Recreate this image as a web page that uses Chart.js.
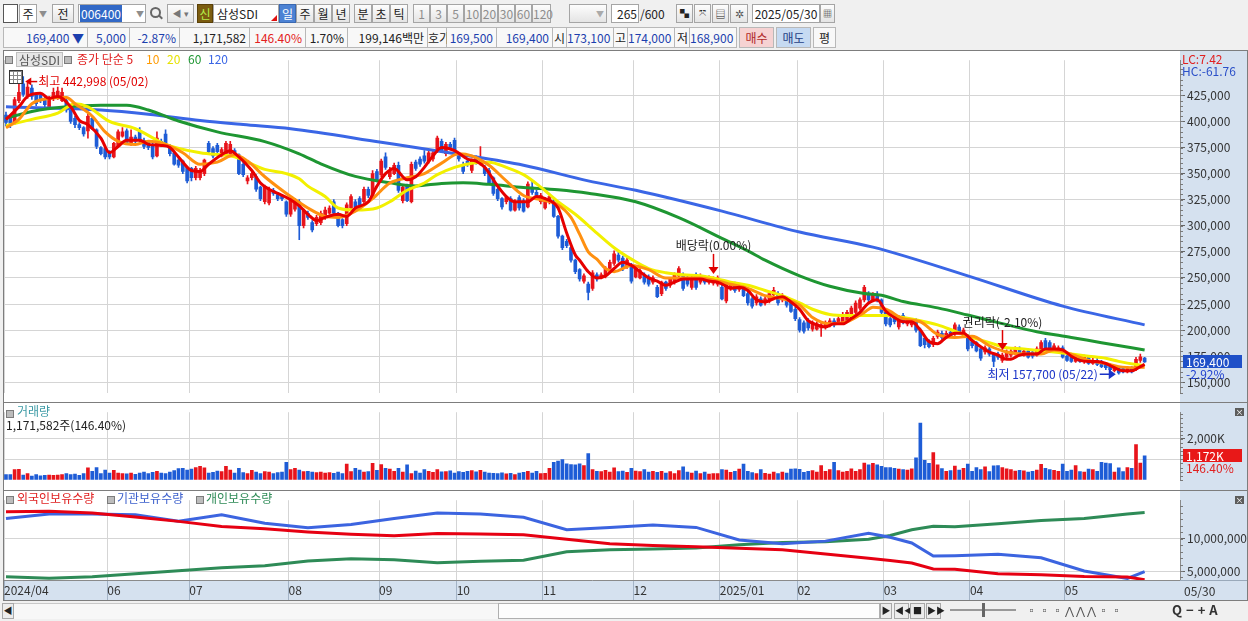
<!DOCTYPE html>
<html>
<head>
<meta charset="utf-8">
<script src="https://cdn.jsdelivr.net/npm/chart.js@4.4.0/dist/chart.umd.js"></script>
<style>
  body { margin:0; width:1248px; height:621px; overflow:hidden; position:relative; background:#f0f0f0;
         font-family:'Liberation Sans Narrow','Noto Sans CJK KR',sans-serif; font-size:12px; color:#222; }
  .a { position:absolute; white-space:nowrap; line-height:14px; }
  .b { position:absolute; top:4px; height:19px; box-sizing:border-box; border:1px solid #a5a5a5;
       background:linear-gradient(#fdfdfd,#e4e4e4); text-align:center; line-height:17px; white-space:nowrap; }
  .w { background:#fff; }
  .g { color:#8d8d8d; }
  .c { position:absolute; top:27px; height:21px; box-sizing:border-box; border:1px solid #b8b8b8; border-left:none;
       background:#f8f8f8; line-height:19px; text-align:right; padding-right:3px; white-space:nowrap; }
  .blue { color:#1c3fae; } .red { color:#e32020; }
  canvas { position:absolute; left:0; }
  .sq { position:absolute; width:6px; height:6px; background:#bcbcbc; border:1px solid #7c7c7c; }
  .ln { position:absolute; background:#7d7d7d; }
  .x { position:absolute; width:9px; height:8px; background:#5c5c5c; color:#fff; font-size:8px; line-height:8px; text-align:center; }
  .sb { position:absolute; top:603px; height:16px; box-sizing:border-box; border:1px solid #a8a8a8; background:#ececec;
        font-size:9px; line-height:14px; text-align:center; color:#222; }
</style>
</head>
<body>

<!-- toolbar row 1 -->
<div class="b w" style="left:3px;width:15px;border-color:#555"></div>
<div class="b w" style="left:19px;width:18px">주</div>
<div class="a g" style="left:39px;top:7px;font-size:8px">▼</div>
<div class="b" style="left:52px;width:22px">전</div>
<div class="b w" style="left:78px;width:68px;text-align:left;padding-left:1px"><span style="background:#3168c6;color:#fff;padding:0 1px">006400</span></div>
<div class="a g" style="left:136px;top:7px;font-size:8px">▼</div>
<div class="a" style="left:150px;top:7px;width:7px;height:7px;border:2px solid #666;border-radius:50%"></div>
<div class="a" style="left:158px;top:16px;width:5px;height:2px;background:#666;transform:rotate(45deg)"></div>
<div class="b" style="left:167px;width:27px;font-size:9px;color:#777">◀ ▾</div>
<div class="b" style="left:197px;width:16px;background:#7b5c10;color:#b6f04a;border-color:#5a4008">신</div>
<div class="b w" style="left:213px;width:66px;text-align:left;padding-left:3px">삼성SDI</div>
<div class="a" style="left:271px;top:15px;width:0;height:0;border-left:6px solid transparent;border-bottom:6px solid #e01010"></div>
<div class="b" style="left:279px;width:17px;background:#4c82d4;color:#fff;border-color:#3a68b0">일</div>
<div class="b" style="left:296px;width:18px">주</div>
<div class="b" style="left:314px;width:18px">월</div>
<div class="b" style="left:332px;width:18px">년</div>
<div class="b" style="left:354px;width:18px">분</div>
<div class="b" style="left:372px;width:18px">초</div>
<div class="b" style="left:390px;width:18px">틱</div>
<div class="b g" style="left:413px;width:17px">1</div>
<div class="b g" style="left:430px;width:17px">3</div>
<div class="b g" style="left:447px;width:17px">5</div>
<div class="b g" style="left:464px;width:17px">10</div>
<div class="b g" style="left:481px;width:17px">20</div>
<div class="b g" style="left:498px;width:17px">30</div>
<div class="b g" style="left:515px;width:17px">60</div>
<div class="b g" style="left:532px;width:19px">120</div>
<div class="b" style="left:569px;width:38px;text-align:right;padding-right:2px;font-size:8px;color:#aaa">▼</div>
<div class="b w" style="left:611px;width:28px;text-align:right;padding-right:1px">265</div>
<div class="a" style="left:640px;top:7px">/600</div>
<div class="b" style="left:676px;width:17px;font-size:9px">▚</div>
<div class="b" style="left:694px;width:17px;font-size:9px">⤧</div>
<div class="b" style="left:712px;width:17px;font-size:10px">▤</div>
<div class="b" style="left:730px;width:18px;font-size:11px;color:#555">✲</div>
<div class="b w" style="left:752px;width:68px">2025/05/30</div>
<div class="b" style="left:820px;width:15px;font-size:9px">▦</div>

<!-- toolbar row 2 -->
<div class="c blue" style="left:3px;width:85px;border-left:1px solid #b8b8b8">169,400 ▼</div>
<div class="c blue" style="left:88px;width:42px">5,000</div>
<div class="c blue" style="left:130px;width:50px">-2.87%</div>
<div class="c" style="left:180px;width:70px">1,171,582</div>
<div class="c red" style="left:250px;width:56px">146.40%</div>
<div class="c" style="left:306px;width:42px">1.70%</div>
<div class="c" style="left:348px;width:80px">199,146백만</div>
<div class="c" style="left:428px;width:19px;padding-right:1px">호가</div>
<div class="c blue" style="left:447px;width:50px">169,500</div>
<div class="c blue" style="left:497px;width:56px">169,400</div>
<div class="c" style="left:553px;width:14px;padding-right:1px">시</div>
<div class="c blue" style="left:567px;width:47px">173,100</div>
<div class="c" style="left:614px;width:14px;padding-right:1px">고</div>
<div class="c blue" style="left:628px;width:47px">174,000</div>
<div class="c" style="left:675px;width:15px;padding-right:1px">저</div>
<div class="c blue" style="left:690px;width:47px">168,900</div>
<div class="c" style="left:739px;width:35px;text-align:center;padding:0;background:#f6d2d2;color:#b02828;border-left:1px solid #b8b8b8">매수</div>
<div class="c" style="left:776px;width:35px;text-align:center;padding:0;background:#c6daf2;color:#1e3f86;border-left:1px solid #b8b8b8">매도</div>
<div class="c" style="left:813px;width:23px;text-align:center;padding:0;border-left:1px solid #b8b8b8">평</div>

<!-- chart frame backgrounds -->
<div class="a" style="left:4px;top:51px;width:1176px;height:529px;background:#fff"></div>
<div class="a" style="left:1180px;top:51px;width:67px;height:549px;background:#d5e1ef"></div>
<div class="a" style="left:4px;top:580px;width:1176px;height:20px;background:#d5e1ef"></div>

<canvas id="cPrice" width="1248" height="351" style="top:51px"></canvas>
<canvas id="cVol" width="1248" height="86" style="top:403px"></canvas>
<canvas id="cHold" width="1248" height="109" style="top:491px"></canvas>

<!-- frame lines -->
<div class="ln" style="left:3px;top:50px;width:1245px;height:1px"></div>
<div class="ln" style="left:3px;top:50px;width:1px;height:551px"></div>
<div class="ln" style="left:1247px;top:50px;width:1px;height:551px"></div>
<div class="ln" style="left:3px;top:402px;width:1245px;height:1px"></div>
<div class="ln" style="left:3px;top:490px;width:1245px;height:1px"></div>
<div class="ln" style="left:1180px;top:580px;width:67px;height:1px;background:#9aa9ba"></div>
<div class="ln" style="left:3px;top:600px;width:1245px;height:1px"></div>

<!-- price panel texts -->
<div class="sq" style="left:5px;top:56px"></div>
<div class="a" style="left:16px;top:52px;padding:0 2px;background:#e6e6e6;border:1px solid #c0c0c0;color:#555;line-height:13px">삼성SDI</div>
<div class="sq" style="left:64px;top:56px"></div>
<div class="a" style="left:77px;top:52px;color:#e02020">종가 단순 5</div>
<div class="a" style="left:146px;top:52px;color:#ff9a00">10</div>
<div class="a" style="left:167px;top:52px;color:#e6e200">20</div>
<div class="a" style="left:188px;top:52px;color:#1e9632">60</div>
<div class="a" style="left:208px;top:52px;color:#3a66e6">120</div>
<div class="a" style="left:9px;top:70px;width:12px;height:12px;border:1px solid #333;background:#fff;
  background-image:repeating-linear-gradient(90deg,transparent 0 3px,#888 3px 4px),repeating-linear-gradient(0deg,transparent 0 3px,#888 3px 4px)"></div>
<div class="a" style="left:1182px;top:52px;color:#e02020">LC:7.42</div>
<div class="a" style="left:1182px;top:64px;color:#2a4fc8">HC:-61.76</div>

<!-- volume panel texts -->
<div class="sq" style="left:6px;top:410px"></div>
<div class="a" style="left:17px;top:404px;color:#3c9aa5">거래량</div>
<div class="a" style="left:6px;top:418px">1,171,582주(146.40%)</div>
<div class="x" style="left:1235px;top:408px">×</div>

<!-- holdings panel texts -->
<div class="sq" style="left:6px;top:496px"></div>
<div class="a" style="left:17px;top:491px;color:#e02020">외국인보유수량</div>
<div class="sq" style="left:107px;top:496px"></div>
<div class="a" style="left:117px;top:491px;color:#3b5fcc">기관보유수량</div>
<div class="sq" style="left:196px;top:496px"></div>
<div class="a" style="left:206px;top:491px;color:#2e8b57">개인보유수량</div>
<div class="x" style="left:1235px;top:496px">×</div>
<div class="a" style="left:1184px;top:584px;color:#333">05/30</div>

<!-- scroll bar row -->
<div class="sb" style="left:2px;width:12px">◀</div>
<div class="a" style="left:14px;top:603px;width:866px;height:16px;background:#f7f7f7;border-top:1px solid #c8c8c8;box-sizing:border-box"></div>
<div class="a" style="left:498px;top:603px;width:382px;height:16px;background:#fdfdfd;border:1px solid #b0b0b0;box-sizing:border-box"></div>
<div class="sb" style="left:880px;width:12px">▶</div>
<div class="sb" style="left:894px;width:15px">◀◀</div>
<div class="sb" style="left:910px;width:15px">■</div>
<div class="sb" style="left:926px;width:15px">▶▶</div>
<div class="a" style="left:950px;top:609px;width:66px;height:2px;background:#999"></div>
<div class="a" style="left:982px;top:603px;width:3px;height:14px;background:#666"></div>
<div class="a" style="left:1026px;top:603px;color:#555;font-size:11px;letter-spacing:2px">▫▫▫⋀⋀⋀▫▫</div>
<div class="a" style="left:1172px;top:603px;color:#333;font-size:13px;font-weight:bold;letter-spacing:4px">Q−+A</div>

<script>
// ---- data (prices in thousand won, volume in thousand shares, holdings in million shares) ----
const opens = [
  406,403,399,420,436,425,432,425,425,421, 414,422,423,420,420,412,403,397,394,391,
  403,392,375,374,371,366,376,386,391,379, 385,391,382,381,378,367,381,388,376,370,
  363,362,356,355,346,346,350,379,374,377, 367,369,369,372,368,359,343,346,347,337,
  323,322,334,330,329,323,311,316,323,300, 312,303,302,303,308,312,323,311,306,302,
  317,323,326,323,335,329,352,349,366,347, 350,358,324,338,323,361,364,367,362,364,
  372,381,369,378,382,367,359,362,353,365, 360,356,353,346,335,326,323,326,315,327,
  324,318,337,332,323,317,323,323,309,290, 285,279,267,258,247,244,240,253,250,252,
  259,264,272,269,261,262,251,250,253,251, 246,241,235,246,243,246,252,253,250,241,
  253,246,250,246,245,244,241,228,240,244, 239,242,235,230,226,230,226,228,234,235,
  229,230,227,220,210,207,209,201,201,202, 203,205,209,208,208,209,212,217,221,229,
  235,229,234,229,217,211,212,203,214,206, 205,209,200,192,189,186,194,197,194,198,
  197,203,195,194,189,188,182,179,182,177, 177,171,174,176,177,182,176,180,179,176,
  179,190,188,180,180,183,175,174,170,173, 170,174,168,171,170,168,167,161,164,163,
  160,164,162,171,173.1
];
const highs = [
  409,405,423,436,442.998,437,435,427,427,423, 424,432,433,432,422,414,405,399,395,407,
  405,393,376,376,372,380,392,394,393,392, 387,394,384,382,379,390,383,392,378,371,
  366,363,357,356,357,355,364,381,376,379, 375,381,381,374,369,361,348,352,349,338,
  339,337,336,332,330,324,328,326,325,316, 314,305,310,314,318,319,325,313,307,322,
  330,325,328,337,337,353,354,364,370,356, 360,361,339,340,361,363,366,372,372,373,
  386,383,380,380,384,370,361,364,364,367, 376,358,355,347,336,327,329,328,325,329,
  326,342,343,334,331,327,330,325,310,291, 287,280,268,259,254,246,257,255,255,261,
  267,276,276,271,269,264,261,259,255,253, 252,243,247,247,250,255,261,255,252,252,
  255,254,252,252,251,252,243,246,246,246, 244,244,237,232,234,232,232,237,241,237,
  235,232,229,222,212,209,211,209,208,207, 209,211,211,213,217,219,223,228,231,243,
  237,236,237,230,218,213,214,214,216,211, 210,211,202,194,191,194,200,199,199,200,
  207,205,202,196,191,189,183,185,184,178, 179,178,181,182,184,184,182,182,180,184,
  190,192,190,187,185,185,177,176,176,175, 176,175,173,173,171,169,168,166,165,164,
  165,165,174,177,174
];
const lows = [
  396,394,397,418,424,422,421,415,418,414, 412,420,421,419,409,398,394,392,386,384,
  392,374,368,364,364,365,375,385,378,377, 379,380,374,373,364,366,377,377,367,358,
  356,350,341,343,344,344,348,370,365,369, 366,368,367,366,349,347,340,344,333,324,
  321,320,329,324,324,309,309,314,286.6,298, 306,294,300,301,306,311,311,299,298,300,
  315,317,318,321,327,327,342,347,354,345, 349,332,322,323,322,353,357,360,360,362,
  370,370,367,373,371,362,350,357,351,359, 358,348,340,329,324,316,321,314,314,315,
  313,317,330,327,321,316,321,308,288,277, 279,265,254,247,245,229,238,247,249,250,
  258,262,265,257,259,245,250,249,244,242, 244,231,233,238,241,244,250,238,242,239,
  239,244,244,244,243,242,229,226,238,236, 237,232,224,221,224,223,224,226,232,224,
  227,222,217,209,198,197,200,199,200,194, 201,203,203,206,206,208,211,215,219,227,
  227,227,227,215,204,203,206,201,206,204, 203,198,184,183,183,184,192,191,192,194,
  195,197,194,180,183,179,171,177,175,165, 172,169,172,174,176,175,175,173,173,175,
  178,180,182,179,179,173,170,169,169,169, 168,167,167,166,164,162,161,160,157.7,159,
  159,159,161,169,168.9
];
const closes = [
  399,398,421,428,426,433,424,417,420,416, 422,428,429,428,411,400,397,394,388,405,
  393,376,369,366,366,379,390,390,379,385, 381,382,376,375,366,384,378,379,369,359,
  358,352,343,346,355,353,363,371,367,371, 373,379,378,367,350,349,346,350,335,326,
  337,335,331,326,326,311,326,324,300,314, 308,296,308,312,315,317,312,300,300,320,
  328,318,320,335,329,350,344,362,356,353, 358,334,337,324,359,355,359,362,370,370,
  384,372,378,375,373,364,352,359,362,361, 364,350,341,331,326,318,327,315,323,317,
  314,340,332,329,329,325,328,309,290,279, 281,267,256,249,252,236,255,249,253,259,
  265,273,267,259,267,247,259,257,246,244, 250,232,246,240,249,253,259,240,244,250,
  241,252,246,250,249,250,230,244,244,238, 242,233,226,223,232,224,230,235,238,226,
  233,224,218,211,200,199,202,207,206,205, 207,209,205,211,215,217,221,226,229,241,
  229,234,229,217,206,205,208,212,208,209, 208,200,185,186,184,192,198,193,197,195,
  205,198,200,182,185,180,173,183,177,170, 174,176,179,180,182,176,180,174,175,182,
  188,181,183,185,183,174,171,170,174,170, 174,168,171,167,165,164,162,165,159,160,
  163,160,172,174.4,169.4
];
const volumes = [
  260,250,500,510,230,300,180,260,200,220, 230,220,230,250,300,260,280,220,300,580,
  420,600,300,480,330,460,330,300,290,330, 270,330,380,300,360,420,330,310,380,450,
  550,560,480,520,600,660,580,330,360,430, 400,660,480,330,560,350,300,460,380,300,
  400,380,300,350,380,860,500,560,480,400, 420,380,350,380,330,350,320,380,300,770,
  400,560,480,380,400,800,460,740,560,520, 420,560,380,730,300,430,330,500,420,360,
  500,390,400,440,330,400,360,420,450,390, 460,380,330,320,300,340,290,320,260,330,
  360,420,330,420,300,320,560,860,920,990, 780,740,730,780,700,1280,500,420,400,460,
  380,580,400,430,360,560,430,400,500,380, 420,360,420,330,400,300,450,640,380,330,
  430,300,380,280,310,300,500,480,360,420, 520,770,420,350,300,500,320,280,380,300,
  380,330,520,540,510,360,420,450,380,700, 420,500,860,450,380,420,540,420,500,820,
  730,800,730,660,600,600,560,520,500,480, 540,1075,2770,950,800,1330,730,550,420,450,
  670,470,560,770,420,600,500,630,400,680, 700,600,540,500,430,460,440,380,420,480,
  760,560,500,460,420,770,420,480,700,400, 380,520,500,420,860,820,790,380,580,400,
  600,560,1720,820,1171.582
];

// moving averages as [bar index, value]
const ma5 = [[0,402],[3,414],[5,424],[8,427],[10,422],[12,424],[15,414],[17,401],[19,397],[22,384],[24,370],[26,376],[28,382],[31,382],[33,378],[36,377],[38,375],[40,366],[43,353],[45,352],[47,359],[50,368],[52,372],[54,366],[57,353],[59,341],[61,335],[63,331],[66,325],[68,319],[70,311],[72,305],[74,308],[77,311],[79,309],[81,317],[84,323],[86,338],[88,350],[90,355],[93,344],[95,347],[97,356],[99,367],[101,375],[104,372],[107,364],[109,362],[111,356],[114,338],[116,328],[118,323],[121,323],[123,328],[125,326],[128,317],[130,293],[132,272],[133,267],[135,256],[137,250],[139,252],[141,259],[143,265],[145,262],[147,256],[149,250],[151,247],[153,243],[155,246],[157,249],[159,249],[161,249],[163,247],[165,246],[167,242],[168,240],[170,241],[172,238],[174,229],[176,227],[178,230],[180,232],[182,227],[184,220],[186,209],[188,205],[190,203],[192,206],[194,206],[196,211],[198,217],[200,226],[202,229],[204,218],[206,212],[208,208],[210,208],[212,200],[214,189],[216,187],[218,193],[220,197],[222,197],[224,190],[226,184],[228,179],[230,176],[232,172],[233,172],[235,176],[237,177],[239,177],[241,182],[243,182],[245,181],[247,175],[249,171],[251,170],[253,170],[255,168],[257,164],[259,161],[261,161],[263,165],[264,167.2]];
const ma10 = [[0,394],[3,402],[6,417],[10,422],[14,423],[16,417],[20,405],[23,390],[26,381],[30,378],[33,381],[37,378],[41,370],[45,359],[49,361],[53,368],[56,362],[60,347],[64,334],[66,328],[70,317],[74,309],[77,308],[81,314],[85,326],[89,341],[93,346],[97,350],[101,360],[105,369],[108,367],[112,358],[116,343],[120,329],[124,325],[128,320],[131,308],[133,292],[135,275],[137,268],[139,259],[141,256],[145,262],[149,258],[153,250],[157,250],[161,250],[165,247],[168,244],[172,240],[176,233],[180,230],[184,224],[187,212],[191,206],[195,208],[199,217],[201,222],[204,220],[208,211],[212,208],[216,196],[220,193],[224,194],[228,185],[232,179],[236,177],[240,177],[243,181],[247,177],[251,171],[255,168],[258,165],[262,164],[264,164.5]];
const ma20 = [[0,396],[6,402],[12,408],[16,417],[19,414],[24,400],[30,393],[37,378],[45,370],[53,366],[60,354],[65,350],[68,345],[70,338],[74,328],[77,317],[81,315],[86,317],[89,323],[93,334],[97,341],[100,349],[104,356],[108,360],[112,361],[116,356],[120,349],[124,337],[128,323],[132,311],[137,293],[141,279],[145,268],[149,259],[153,255],[157,253],[161,252],[165,249],[168,246],[172,243],[176,238],[180,233],[184,226],[187,220],[191,215],[195,214],[199,214],[204,214],[208,212],[212,209],[216,205],[220,199],[224,193],[228,188],[232,183],[236,182],[240,180],[243,179],[247,177],[251,175],[255,173],[258,170],[262,167],[264,166]];
const ma60 = [[0,403],[6,409.5],[14,414],[22,415.6],[28,415.6],[33,411],[40,400.4],[49,390],[60,380.7],[68,369],[73,359.4],[81,347.3],[89,341.2],[95,338.2],[101,340.6],[106,341.2],[112,339.7],[120,336.7],[128,334.5],[135,331.2],[146,323],[156,307.8],[166,288],[172,276],[176,267],[184,252],[191,242],[199,235],[203,233.4],[208,227.4],[216,221.3],[223,214.4],[231,206.2],[239,198.5],[247,193],[254,187.9],[264,181]];
const ma120 = [[0,414],[22,411],[33,407],[45,401],[55,397],[66,393],[87,380],[105,368.5],[120,358],[135,343],[146,334],[166,314],[184,294],[201,279.5],[223,252],[245,223],[264,205]];

// holdings (million shares) sampled at these bar indices
const holdIdx = [0,10,20,30,40,50,60,70,80,90,100,110,120,130,140,150,160,170,180,190,200,205,210,215,220,230,240,250,260,264];
const foreignHold = [14.17,14.26,13.98,13.38,12.69,11.90,11.53,11.06,10.69,10.46,10.83,10.74,10.60,9.91,9.21,8.94,8.75,8.52,8.29,7.64,6.99,6.62,6.25,5.32,5.28,4.58,4.44,4.17,4.07,3.66];
const instHold = [13.15,13.84,13.84,13.70,12.70,13.70,12.41,11.71,12.22,13.15,13.98,13.84,13.33,11.39,11.76,12.13,11.76,9.81,9.21,9.63,10.83,10.23,9.35,7.31,7.36,7.59,7.04,5.00,3.84,4.91];
const personHold = [4.12,3.89,4.12,4.58,5.05,5.51,5.83,6.57,6.90,6.76,6.30,6.53,6.67,8.00,8.29,8.43,8.57,9.07,9.40,9.54,9.91,10.50,11.39,11.94,11.85,12.31,12.82,13.15,13.84,14.07];

// axis labels / events
const monthStarts = [24,43,66,87,105,125,146,166,184,204,224,246];
const dateLabels = ['2024/04','06','07','08','09','10','11','12','2025/01','02','03','04','05'];
const priceTicks = [150,175,200,225,250,275,300,325,350,375,400,425];
const volTicks = [1000,2000];
const holdTicks = [5,10];
const hiDate = '05/02', loDate = '05/22';
const events = [[164,'배당락(0.00%)'],[231,'권리락(-2.10%)']];
const lastChangePct = '-2.92%', volRatio = '146.40%';

// ---- chart setup ----
const FONT = "'Liberation Sans Narrow', 'Noto Sans CJK KR', sans-serif";
Chart.defaults.font.family = FONT;
Chart.defaults.font.size = 12;
Chart.defaults.color = '#333';
Chart.defaults.animation = false;

const X_MIN = -0.46, X_MAX = 272.2;
const GRID = '#d5d5d5';
const UP = '#e8141b', DOWN = '#1e5cd6';
const fmt = v => Math.round(v).toLocaleString('en-US');
const idx = closes.map((c, i) => i);
const candleColors = idx.map(i => closes[i] >= opens[i] ? UP : DOWN);
const pts = arr => arr.map(([x, y]) => ({x, y}));

function xAxis(bottom) {
  const s = {
    type: 'linear', min: X_MIN, max: X_MAX, offset: false,
    afterBuildTicks: sc => { sc.ticks = [X_MIN].concat(monthStarts.map(m => m - 0.5)).map(v => ({value: v})); },
    afterFit: sc => { sc.height = 0; },
    grid: {color: GRID, offset: false, drawTicks: false},
    border: {display: false},
    ticks: {display: false}
  };
  if (bottom) {
    s.afterFit = sc => { sc.height = 20; };
    s.grid = {color: GRID, offset: false, drawTicks: true, tickLength: 20, tickColor: '#a3b3c6'};
    s.border = {display: true, color: '#8a8a8a'};
    s.ticks = {display: true, autoSkip: false, maxRotation: 0, align: 'start', padding: -17,
               color: '#333', callback: (v, k) => dateLabels[k]};
  }
  return s;
}

function yAxis(min, max, ticks, label) {
  return {
    position: 'right', min, max,
    afterBuildTicks: sc => { sc.ticks = ticks.map(v => ({value: v})); },
    afterFit: sc => { sc.width = 68; },
    grid: {color: GRID, tickColor: '#666', tickLength: 5, drawTicks: true},
    border: {display: true, color: '#8a8a8a'},
    ticks: {padding: 2, color: '#333', callback: label}
  };
}

function maLine(arr, color, order) {
  return {type: 'line', data: pts(arr), borderColor: color, borderWidth: 3, pointRadius: 0,
          cubicInterpolationMode: 'monotone', order};
}

// small unlabeled marks on the right axis
const minorTicks = {
  id: 'minorTicks',
  afterDraw(chart, args, opts) {
    const y = chart.scales.y, ctx = chart.ctx, x0 = chart.chartArea.right;
    ctx.save();
    ctx.strokeStyle = '#7a7a7a'; ctx.lineWidth = 1;
    ctx.beginPath();
    for (let k = Math.ceil(y.min / opts.step); k * opts.step <= y.max; k++) {
      const py = Math.round(y.getPixelForValue(k * opts.step)) + 0.5;
      ctx.moveTo(x0, py); ctx.lineTo(x0 + 3, py);
    }
    ctx.stroke();
    ctx.restore();
  }
};

// value tag on the right axis
function tagPlugin(id, value, text, sub, bg, subColor) {
  return {
    id,
    afterDraw(chart) {
      const {ctx, chartArea, scales: {y}} = chart;
      const py = Math.round(y.getPixelForValue(value));
      ctx.save();
      ctx.fillStyle = bg;
      ctx.fillRect(chartArea.right + 3, py - 7, 59, 13);
      ctx.font = '12px ' + FONT;
      ctx.textAlign = 'left'; ctx.textBaseline = 'middle';
      ctx.fillStyle = '#fff';
      ctx.fillText(text, chartArea.right + 6, py);
      ctx.fillStyle = subColor;
      ctx.fillText(sub, chartArea.right + 6, py + 12);
      ctx.restore();
    }
  };
}

const priceMarks = {
  id: 'priceMarks',
  afterDatasetsDraw(chart) {
    const {ctx, scales: {x, y}} = chart;
    ctx.save();
    ctx.font = '12px ' + FONT;
    ctx.textBaseline = 'middle';
    ctx.lineWidth = 1.5;

    // highest
    const hi = highs.indexOf(Math.max(...highs));
    let px = x.getPixelForValue(hi), py = y.getPixelForValue(highs[hi]) + 5;
    ctx.strokeStyle = ctx.fillStyle = '#e00000';
    ctx.beginPath(); ctx.moveTo(px + 14, py); ctx.lineTo(px + 5, py); ctx.stroke();
    ctx.beginPath(); ctx.moveTo(px + 2, py); ctx.lineTo(px + 8, py - 4); ctx.lineTo(px + 8, py + 4); ctx.fill();
    ctx.textAlign = 'left';
    ctx.fillText('최고 ' + fmt(highs[hi] * 1000) + ' (' + hiDate + ')', px + 15, py);

    // lowest
    const lo = lows.indexOf(Math.min(...lows));
    px = x.getPixelForValue(lo); py = y.getPixelForValue(lows[lo]);
    ctx.strokeStyle = ctx.fillStyle = '#1b34c8';
    ctx.beginPath(); ctx.moveTo(px - 19, py); ctx.lineTo(px - 8, py); ctx.stroke();
    ctx.beginPath(); ctx.moveTo(px - 3, py); ctx.lineTo(px - 10, py - 5); ctx.lineTo(px - 10, py + 5); ctx.fill();
    ctx.textAlign = 'right';
    ctx.fillText('최저 ' + fmt(lows[lo] * 1000) + ' (' + loDate + ')', px - 21, py);

    // ex-dividend / ex-rights
    events.forEach(([i, label]) => {
      const ex = Math.round(x.getPixelForValue(i)) + 0.5, tip = y.getPixelForValue(highs[i]) - 3;
      ctx.strokeStyle = ctx.fillStyle = '#e00000';
      ctx.beginPath(); ctx.moveTo(ex, tip - 20); ctx.lineTo(ex, tip - 5); ctx.stroke();
      ctx.beginPath(); ctx.moveTo(ex - 5, tip - 7); ctx.lineTo(ex + 5, tip - 7); ctx.lineTo(ex, tip); ctx.fill();
      ctx.fillStyle = '#222'; ctx.textAlign = 'center';
      ctx.fillText(label, ex, tip - 28);
    });
    ctx.restore();
  }
};

const last = closes.length - 1;
const base = {responsive: false, maintainAspectRatio: false, layout: {padding: {left: 4}}};

new Chart(document.getElementById('cPrice'), {
  type: 'bar',
  data: {datasets: [
    {data: idx.map(i => ({x: i, y: [lows[i], highs[i]]})), backgroundColor: candleColors, barThickness: 1, grouped: false, order: 20},
    {data: idx.map(i => ({x: i, y: [opens[i], closes[i]]})), backgroundColor: candleColors, barThickness: 3, grouped: false, order: 19},
    maLine(ma120, '#3a66e6', 5),
    maLine(ma60, '#1e9632', 4),
    maLine(ma20, '#f2f000', 3),
    maLine(ma10, '#ff9010', 2),
    maLine(ma5, '#e60000', 1)
  ]},
  options: {...base,
    plugins: {legend: {display: false}, tooltip: {enabled: false}, minorTicks: {step: 5}},
    scales: {x: xAxis(false), y: yAxis(139.9, 458.7, priceTicks, v => fmt(v * 1000))}
  },
  plugins: [minorTicks, priceMarks,
    tagPlugin('priceTag', closes[last], fmt(closes[last] * 1000), lastChangePct, '#1f50c8', '#2040d0')]
});

new Chart(document.getElementById('cVol'), {
  type: 'bar',
  data: {datasets: [
    {data: idx.map(i => ({x: i, y: volumes[i]})), backgroundColor: candleColors, barThickness: 3}
  ]},
  options: {...base,
    plugins: {legend: {display: false}, tooltip: {enabled: false}, minorTicks: {step: 200}},
    scales: {x: xAxis(false), y: yAxis(0, 3308, volTicks, v => v === 2000 ? fmt(v) + 'K' : '')}
  },
  plugins: [minorTicks,
    tagPlugin('volTag', volumes[last], fmt(volumes[last]) + 'K', volRatio, '#e81818', '#e02020')]
});

new Chart(document.getElementById('cHold'), {
  type: 'line',
  data: {datasets: [
    {data: holdIdx.map((x, k) => ({x, y: foreignHold[k]})), borderColor: '#e60012', borderWidth: 3, pointRadius: 0},
    {data: holdIdx.map((x, k) => ({x, y: instHold[k]})), borderColor: '#3c64e0', borderWidth: 3, pointRadius: 0},
    {data: holdIdx.map((x, k) => ({x, y: personHold[k]})), borderColor: '#2e8b57', borderWidth: 3, pointRadius: 0}
  ]},
  options: {...base,
    plugins: {legend: {display: false}, tooltip: {enabled: false}, minorTicks: {step: 1}},
    scales: {x: xAxis(true), y: yAxis(3.61, 15.97, holdTicks, v => fmt(v * 1e6))}
  },
  plugins: [minorTicks]
});
</script>
</body>
</html>
